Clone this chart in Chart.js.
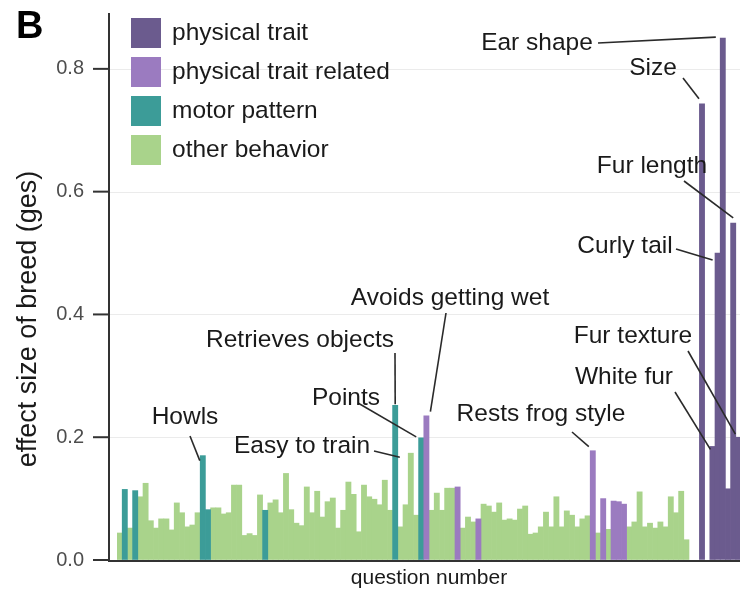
<!DOCTYPE html>
<html>
<head>
<meta charset="utf-8">
<script src="https://cdn.jsdelivr.net/npm/chart.js@4/dist/chart.umd.min.js"></script>
<style>
  html, body { margin: 0; padding: 0; background: #fff; overflow: hidden; }
  #wrap { position: relative; width: 746px; height: 597px; }
</style>
</head>
<body>
<div id="wrap"><canvas id="chart"></canvas></div>
<script>
// effect size (ges) per question, left to right
const effect = [
  0.044, 0.115, 0.052, 0.113, 0.103, 0.125, 0.064, 0.052, 0.067, 0.067,
  0.049, 0.093, 0.077, 0.054, 0.057, 0.077, 0.170, 0.082, 0.085, 0.085,
  0.075, 0.077, 0.122, 0.122, 0.040, 0.043, 0.040, 0.106, 0.081, 0.093,
  0.098, 0.077, 0.141, 0.082, 0.060, 0.056, 0.119, 0.077, 0.112, 0.070,
  0.095, 0.101, 0.052, 0.081, 0.127, 0.107, 0.046, 0.122, 0.103, 0.099,
  0.090, 0.130, 0.081, 0.252, 0.054, 0.090, 0.174, 0.073, 0.199, 0.235,
  0.081, 0.109, 0.081, 0.117, 0.117, 0.119, 0.052, 0.070, 0.062, 0.067,
  0.091, 0.088, 0.078, 0.093, 0.065, 0.067, 0.065, 0.083, 0.088, 0.042,
  0.044, 0.054, 0.078, 0.054, 0.103, 0.054, 0.080, 0.073, 0.054, 0.067,
  0.072, 0.178, 0.044, 0.100, 0.050, 0.096, 0.095, 0.091, 0.054, 0.062,
  0.111, 0.054, 0.060, 0.052, 0.062, 0.054, 0.103, 0.077, 0.112, 0.033,
  null, null, 0.743, null, 0.185, 0.500, 0.850, 0.116, 0.549, 0.200
];
// P = physical trait, R = physical trait related, M = motor pattern, O = other behavior
const group = [
  'O','M','O','M','O','O','O','O','O','O',
  'O','O','O','O','O','O','M','M','O','O',
  'O','O','O','O','O','O','O','O','M','O',
  'O','O','O','O','O','O','O','O','O','O',
  'O','O','O','O','O','O','O','O','O','O',
  'O','O','O','M','O','O','O','O','M','R',
  'O','O','O','O','O','R','O','O','O','R',
  'O','O','O','O','O','O','O','O','O','O',
  'O','O','O','O','O','O','O','O','O','O',
  'O','R','O','R','O','R','R','R','O','O',
  'O','O','O','O','O','O','O','O','O','O',
  'P','P','P','P','P','P','P','P','P','P'
];
const questions = effect.map((_, i) => i + 1);

const groupKeys = ['P', 'R', 'M', 'O'];
const groupNames = ['physical trait', 'physical trait related', 'motor pattern', 'other behavior'];
const groupColors = ['#6b5b8e', '#9b7bc0', '#3c9c98', '#a9d38b'];
const yTicks = [0, 0.2, 0.4, 0.6, 0.8];

// labelled questions (1-based): text centre, leader start, leader end offset from bar top
const notes = [
  { q: 17,  text: 'Howls',              tx: 185, ty: 417, sx: 190, sy: 436, ox: -3,  oy: 5 },
  { q: 54,  text: 'Retrieves objects',  tx: 300, ty: 340, sx: 395, sy: 353, ox: 0,   oy: -1 },
  { q: 57,  text: 'Easy to train',      tx: 302, ty: 446, sx: 374, sy: 451, ox: -11, oy: 4 },
  { q: 59,  text: 'Points',             tx: 346, ty: 398, sx: 358, sy: 403, ox: -5,  oy: -1 },
  { q: 60,  text: 'Avoids getting wet', tx: 450, ty: 298, sx: 446, sy: 313, ox: 4,   oy: -4 },
  { q: 92,  text: 'Rests frog style',   tx: 541, ty: 414, sx: 572, sy: 432, ox: -4,  oy: -4 },
  { q: 117, text: 'Ear shape',          tx: 537, ty: 43,  sx: 598, sy: 43,  ox: -7,  oy: -1 },
  { q: 113, text: 'Size',               tx: 653, ty: 68,  sx: 683, sy: 78,  ox: -3,  oy: -5 },
  { q: 119, text: 'Fur length',         tx: 652, ty: 166, sx: 684, sy: 181, ox: 0,   oy: -5 },
  { q: 116, text: 'Curly tail',         tx: 625, ty: 246, sx: 676, sy: 249, ox: -5,  oy: 7 },
  { q: 120, text: 'Fur texture',        tx: 633, ty: 336, sx: 688, sy: 351, ox: -3,  oy: -3 },
  { q: 115, text: 'White fur',          tx: 624, ty: 377, sx: 675, sy: 392, ox: -2,  oy: 3 }
];

const FONT = '"Liberation Sans", Arial, Helvetica, sans-serif';
const AXIS_X = 109;

const datasets = groupKeys.map((k, gi) => ({
  label: groupNames[gi],
  data: effect.map((v, i) => (group[i] === k ? v : null)),
  backgroundColor: groupColors[gi],
  borderWidth: 0,
  grouped: false,
  barPercentage: 1,
  categoryPercentage: 1
}));

const decor = {
  id: 'decor',
  beforeDatasetsDraw(chart) {
    const { ctx, chartArea, scales: { y } } = chart;
    ctx.save();
    ctx.strokeStyle = '#ebebeb';
    ctx.lineWidth = 1;
    yTicks.forEach(v => {
      if (v === 0) return;
      const py = Math.round(y.getPixelForValue(v)) + 0.5;
      ctx.beginPath();
      ctx.moveTo(AXIS_X, py);
      ctx.lineTo(chartArea.right + 10, py);
      ctx.stroke();
    });
    ctx.restore();
  },
  afterDatasetsDraw(chart) {
    const { ctx, chartArea, scales: { x, y } } = chart;
    ctx.save();
    // axes
    ctx.strokeStyle = '#333';
    ctx.lineWidth = 2;
    const y0 = y.getPixelForValue(0) + 1;
    ctx.beginPath();
    ctx.moveTo(AXIS_X, chartArea.top);
    ctx.lineTo(AXIS_X, y0);
    ctx.lineTo(chartArea.right + 10, y0);
    ctx.stroke();
    yTicks.forEach(v => {
      const py = y.getPixelForValue(v);
      ctx.beginPath();
      ctx.moveTo(AXIS_X - 16, py);
      ctx.lineTo(AXIS_X, py);
      ctx.stroke();
    });

    // y axis title
    ctx.save();
    ctx.translate(29, 319);
    ctx.rotate(-Math.PI / 2);
    ctx.font = '27px ' + FONT;
    ctx.fillStyle = '#1a1a1a';
    ctx.textAlign = 'center';
    ctx.textBaseline = 'middle';
    ctx.fillText('effect size of breed (ges)', 0, 0);
    ctx.restore();

    // annotations
    ctx.font = '24.5px ' + FONT;
    ctx.fillStyle = '#1a1a1a';
    ctx.textAlign = 'center';
    ctx.textBaseline = 'middle';
    ctx.strokeStyle = '#2a2a2a';
    ctx.lineWidth = 1.6;
    notes.forEach(n => {
      const i = n.q - 1;
      const ex = x.getPixelForValue(i) + n.ox;
      const ey = y.getPixelForValue(effect[i]) + n.oy;
      ctx.beginPath();
      ctx.moveTo(n.sx, n.sy);
      ctx.lineTo(ex, ey);
      ctx.stroke();
      ctx.fillText(n.text, n.tx, n.ty);
    });

    // legend
    ctx.textAlign = 'left';
    groupNames.forEach((name, gi) => {
      const top = 18 + gi * 39;
      ctx.fillStyle = groupColors[gi];
      ctx.fillRect(131, top, 30, 30);
      ctx.fillStyle = '#1a1a1a';
      ctx.fillText(name, 172, top + 15);
    });

    // panel letter
    ctx.font = 'bold 38px ' + FONT;
    ctx.fillStyle = '#000';
    ctx.fillText('B', 16, 28);
    ctx.restore();
  }
};

new Chart(document.getElementById('chart'), {
  type: 'bar',
  data: { labels: questions, datasets: datasets },
  options: {
    responsive: true,
    maintainAspectRatio: false,
    animation: false,
    layout: { padding: { top: 13, right: 5, bottom: 0, left: 0 } },
    plugins: {
      legend: { display: false },
      tooltip: { enabled: false }
    },
    scales: {
      x: {
        ticks: { display: false },
        grid: { display: false },
        border: { display: false },
        title: {
          display: true,
          text: 'question number',
          color: '#1a1a1a',
          font: { family: FONT, size: 21 },
          padding: { top: 0, bottom: 6 }
        },
        afterFit: s => { s.height = 37; }
      },
      y: {
        min: 0,
        max: 0.891,
        afterBuildTicks: s => { s.ticks = yTicks.map(v => ({ value: v })); },
        ticks: {
          color: '#4d4d4d',
          font: { family: FONT, size: 20 },
          padding: 0,
          callback: v => v.toFixed(1)
        },
        grid: {
          display: true,
          drawOnChartArea: false,
          drawTicks: true,
          tickLength: 33,
          color: 'rgba(0,0,0,0)',
          tickColor: 'rgba(0,0,0,0)'
        },
        border: { display: false },
        afterFit: s => { s.width = 117; }
      }
    }
  },
  plugins: [decor]
});
</script>
</body>
</html>
